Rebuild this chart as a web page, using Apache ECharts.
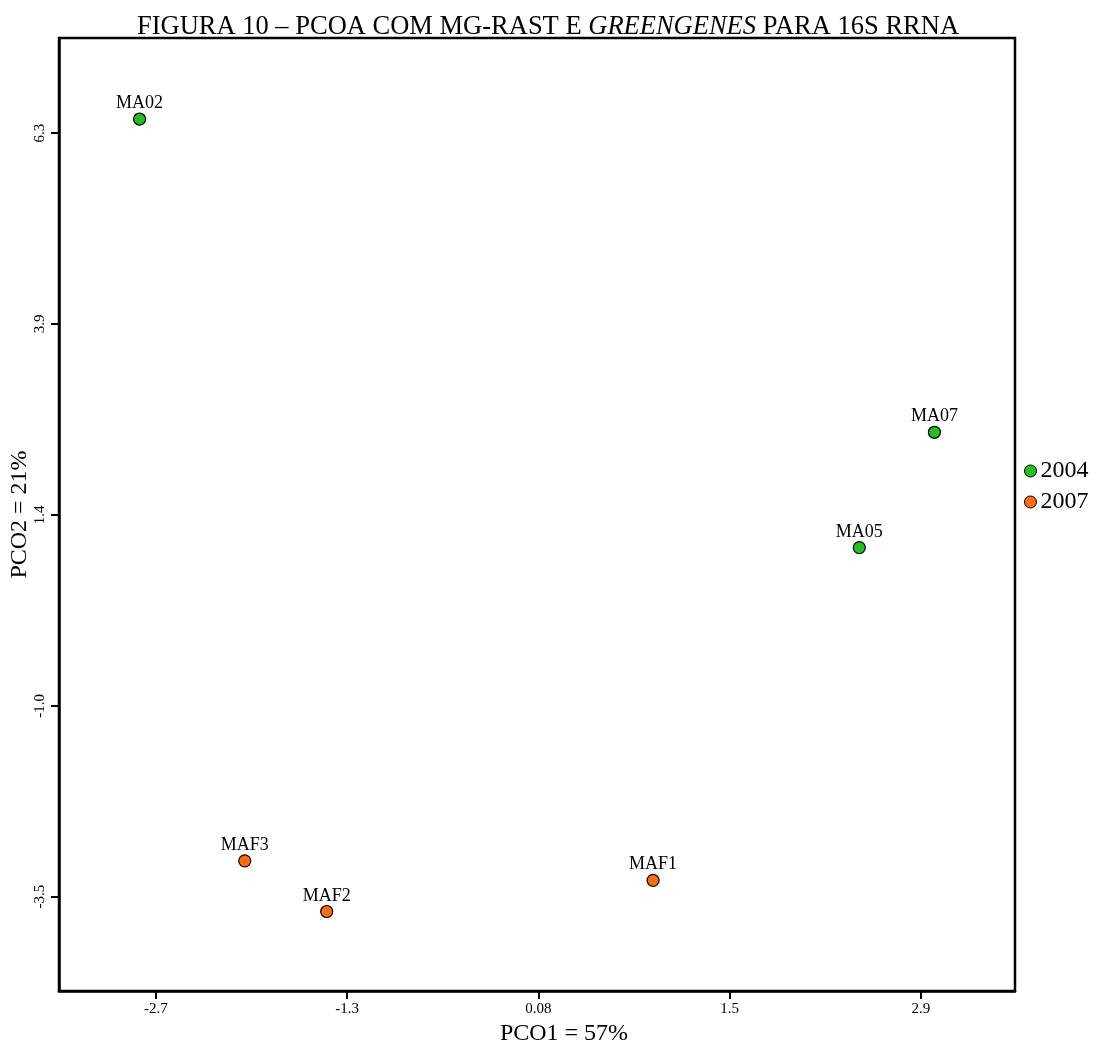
<!DOCTYPE html>
<html>
<head>
<meta charset="utf-8">
<title>PCoA MG-RAST Greengenes 16S rRNA</title>
<script src="https://cdn.jsdelivr.net/npm/echarts@6/dist/echarts.min.js"></script>
<style>
  html, body { margin: 0; padding: 0; background: #ffffff; }
  #chart { width: 1096px; height: 1044px; }
</style>
</head>
<body>
<div id="chart"></div>
<script>
// Sample groups and their PCoA coordinates
const groups = ['2004', '2007'];
const names2004 = ['MA02', 'MA07', 'MA05'];
const pco1_2004 = [-2.84, 2.98, 2.43];
const pco2_2004 = [6.48, 2.46, 0.98];
const names2007 = ['MAF3', 'MAF2', 'MAF1'];
const pco1_2007 = [-2.07, -1.47, 0.92];
const pco2_2007 = [-3.04, -3.69, -3.29];

// Axis tick positions and their printed labels
const xTickValues = [-2.72, -1.32, 0.08, 1.48, 2.88];
const xTickLabels = ['-2.7', '-1.3', '0.08', '1.5', '2.9'];
const yTickValues = [-3.5, -1.05, 1.4, 3.85, 6.3];
const yTickLabels = ['-3.5', '-1.0', '1.4', '3.9', '6.3'];

const colors = { '2004': '#1fc21f', '2007': '#ff6c0c' };
const serif = '"Liberation Serif", "DejaVu Serif", serif';

function labelFor(values, labels, v) {
  let best = 0;
  for (let i = 1; i < values.length; i++) {
    if (Math.abs(values[i] - v) < Math.abs(values[best] - v)) best = i;
  }
  return labels[best];
}

function points(names, xs, ys) {
  return names.map((n, i) => ({ name: n, value: [xs[i], ys[i]] }));
}

function scatterSeries(group, data) {
  return {
    name: group,
    type: 'scatter',
    symbol: 'circle',
    symbolSize: 12,
    data: data,
    itemStyle: { color: colors[group], borderColor: '#000', borderWidth: 1.2, opacity: 1 },
    label: {
      show: true,
      position: 'top',
      distance: 0,
      formatter: p => p.name,
      color: '#000',
      fontFamily: serif,
      fontSize: 18
    },
    emphasis: { disabled: true }
  };
}

const chart = echarts.init(document.getElementById('chart'), null, { renderer: 'canvas' });

chart.setOption({
  animation: false,
  backgroundColor: '#ffffff',
  title: {
    text: '{a|FIGURA 10 – PCOA COM MG-RAST E }{i|GREENGENES}{a| PARA 16S RRNA}',
    left: 'center',
    top: 9,
    textStyle: {
      fontWeight: 'normal',
      rich: {
        a: { fontFamily: serif, fontSize: 26.5, fontWeight: 'normal', color: '#000' },
        i: { fontFamily: serif, fontSize: 26.5, fontWeight: 'normal', fontStyle: 'italic', color: '#000' }
      }
    }
  },
  legend: {
    orient: 'vertical',
    left: 1019,
    top: 454,
    itemWidth: 12,
    itemHeight: 12,
    itemGap: 7,
    icon: 'circle',
    itemStyle: { borderWidth: 1 },
    textStyle: { fontFamily: serif, fontSize: 24, color: '#000', padding: [0, 0, 0, -1] },
    data: groups
  },
  grid: {
    left: 59,
    right: 81,
    top: 38,
    bottom: 53,
    outerBoundsMode: 'none',
    containLabel: false,
    show: true,
    borderColor: '#000',
    borderWidth: 2.5,
    backgroundColor: 'transparent'
  },
  xAxis: {
    type: 'value',
    min: -3.43,
    max: 3.57,
    name: 'PCO1 = 57%',
    nameLocation: 'middle',
    nameGap: 29,
    nameTextStyle: { fontFamily: serif, fontSize: 24, color: '#000', padding: [0, 0, 0, 54] },
    splitLine: { show: false },
    axisLine: { show: true, onZero: false, lineStyle: { color: '#000', width: 2.5 } },
    axisTick: { show: true, customValues: xTickValues, length: 8, lineStyle: { color: '#000', width: 2 } },
    axisLabel: {
      customValues: xTickValues,
      margin: 11,
      fontFamily: serif,
      fontSize: 15,
      color: '#000',
      formatter: v => labelFor(xTickValues, xTickLabels, v)
    }
  },
  yAxis: {
    type: 'value',
    min: -4.71,
    max: 7.52,
    name: 'PCO2 = 21%',
    nameLocation: 'middle',
    nameGap: 27,
    nameMoveOverlap: false,
    nameTextStyle: { fontFamily: serif, fontSize: 24, color: '#000' },
    splitLine: { show: false },
    axisLine: { show: true, onZero: false, lineStyle: { color: '#000', width: 2.5 } },
    axisTick: { show: true, customValues: yTickValues, length: 8, lineStyle: { color: '#000', width: 2 } },
    axisLabel: {
      customValues: yTickValues,
      rotate: 90,
      margin: 11,
      fontFamily: serif,
      fontSize: 15,
      color: '#000',
      formatter: v => labelFor(yTickValues, yTickLabels, v)
    }
  },
  series: [
    scatterSeries('2004', points(names2004, pco1_2004, pco2_2004)),
    scatterSeries('2007', points(names2007, pco1_2007, pco2_2007))
  ]
});
</script>
</body>
</html>
